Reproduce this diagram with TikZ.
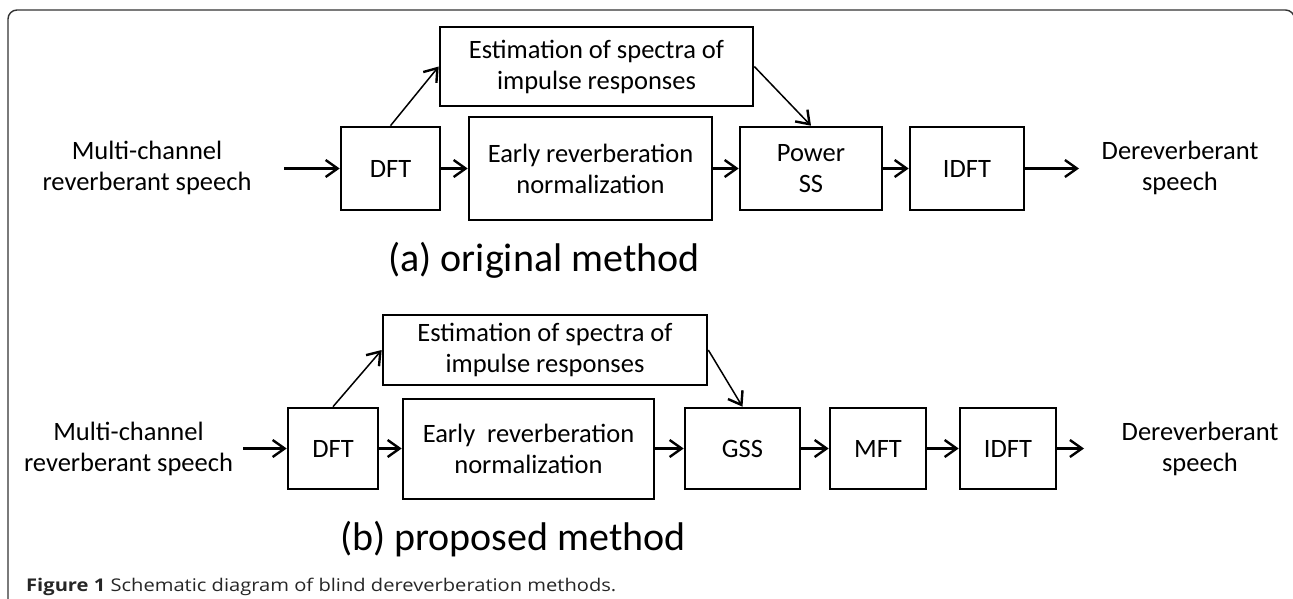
\documentclass[tikz,border=0pt]{standalone}
\usepackage{fontspec}
\setmainfont{Carlito}
\newfontfamily\capfont{Open Sans}
\usetikzlibrary{arrows.meta}
\tikzset{
  blk/.style={draw=black, line width=2.6pt, inner sep=0pt, align=center, font=\fontsize{26.5}{31}\selectfont},
  lbl/.style={inner sep=0pt, align=center, font=\fontsize{26.5}{31}\selectfont},
  title/.style={inner sep=0pt, anchor=base, font=\fontsize{40}{46}\selectfont},
  arr/.style={line width=2.4pt, -{Straight Barb[length=12pt,width=17pt]}},
  darr/.style={line width=1.5pt, -{Straight Barb[length=12pt,width=17pt,line width=2.4pt]}},
  frame/.style={draw=black!80, line width=1.4pt, rounded corners=9pt}
}
\begin{document}
\begin{tikzpicture}[x=1pt,y=-1pt]
\useasboundingbox (0,0) rectangle (1293,599);
\begin{scope}
\clip (0,0) rectangle (1293,599);
\draw[frame] (8,640) -- (8,10) -- (1294.5,10) -- (1294.5,640);
\end{scope}
% ---------- (a) ----------
\node[blk, minimum width=313pt, minimum height=79pt] (est1) at (596.5,66.5) {Estimation of spectra of\\impulse responses};
\node[blk, minimum width=99pt, minimum height=83pt] (dft1) at (390.5,168.5) {DFT};
\node[blk, minimum width=243pt, minimum height=103pt] (early1) at (590.5,168.5) {Early reverberation\\normalization};
\node[blk, minimum width=142pt, minimum height=83pt] (pss) at (811,168.5) {Power\\SS};
\node[blk, minimum width=114pt, minimum height=83pt] (idft1) at (967,168.5) {IDFT};
\node[lbl] (in1) at (147,168) {Multi-channel\\reverberant speech};
\node[lbl] (out1) at (1180,168) {Dereverberant\\speech};
\coordinate (s1) at (284,168.5);
\coordinate (e1) at (1079,168.5);
\draw[arr] (s1) -- (dft1.west);
\draw[arr] (dft1.east) -- (early1.west);
\draw[arr] (early1.east) -- (early1.east -| pss.west);
\draw[arr] (pss.east) -- (idft1.west);
\draw[arr] (idft1.east) -- (e1);
\draw[darr] (dft1.north) -- (est1.west);
\draw[darr] (est1.east) -- (pss.north);
\node[title] (ta) at (544,271) {(a) original method};
% ---------- (b) ----------
\node[blk, minimum width=324pt, minimum height=70pt] (est2) at (545,350) {Estimation of spectra of\\impulse responses};
\node[blk, minimum width=90pt, minimum height=81pt] (dft2) at (333,448.5) {DFT};
\node[blk, minimum width=251pt, minimum height=100pt] (early2) at (528.5,449) {Early\ \ reverberation\\normalization};
\node[blk, minimum width=115pt, minimum height=81pt] (gss) at (742.5,448.5) {GSS};
\node[blk, minimum width=96pt, minimum height=81pt] (mft) at (878,448.5) {MFT};
\node[blk, minimum width=96pt, minimum height=81pt] (idft2) at (1008,448.5) {IDFT};
\node[lbl] (in2) at (128.5,449) {Multi-channel\\reverberant speech};
\node[lbl] (out2) at (1200,449) {Dereverberant\\speech};
\coordinate (s2) at (243,448.5);
\coordinate (e2) at (1084,448.5);
\draw[arr] (s2) -- (dft2.west);
\draw[arr] (dft2.east) -- (dft2.east -| early2.west);
\draw[arr] (early2.east |- gss.west) -- (gss.west);
\draw[arr] (gss.east) -- (mft.west);
\draw[arr] (mft.east) -- (idft2.west);
\draw[arr] (idft2.east) -- (e2);
\draw[darr] (dft2.north) -- (est2.west);
\draw[darr] (est2.east) -- (gss.north);
\node[title] (tb) at (513,550) {(b) proposed method};
% ---------- caption ----------
\node[inner sep=0pt, anchor=base west, text=black!85, font=\capfont\fontsize{17.5}{21}\selectfont] (cap) at (26,591) {\scalebox{1.15}[1]{\textbf{Figure 1} Schematic diagram of blind dereverberation methods.}};
\end{tikzpicture}
\end{document}
